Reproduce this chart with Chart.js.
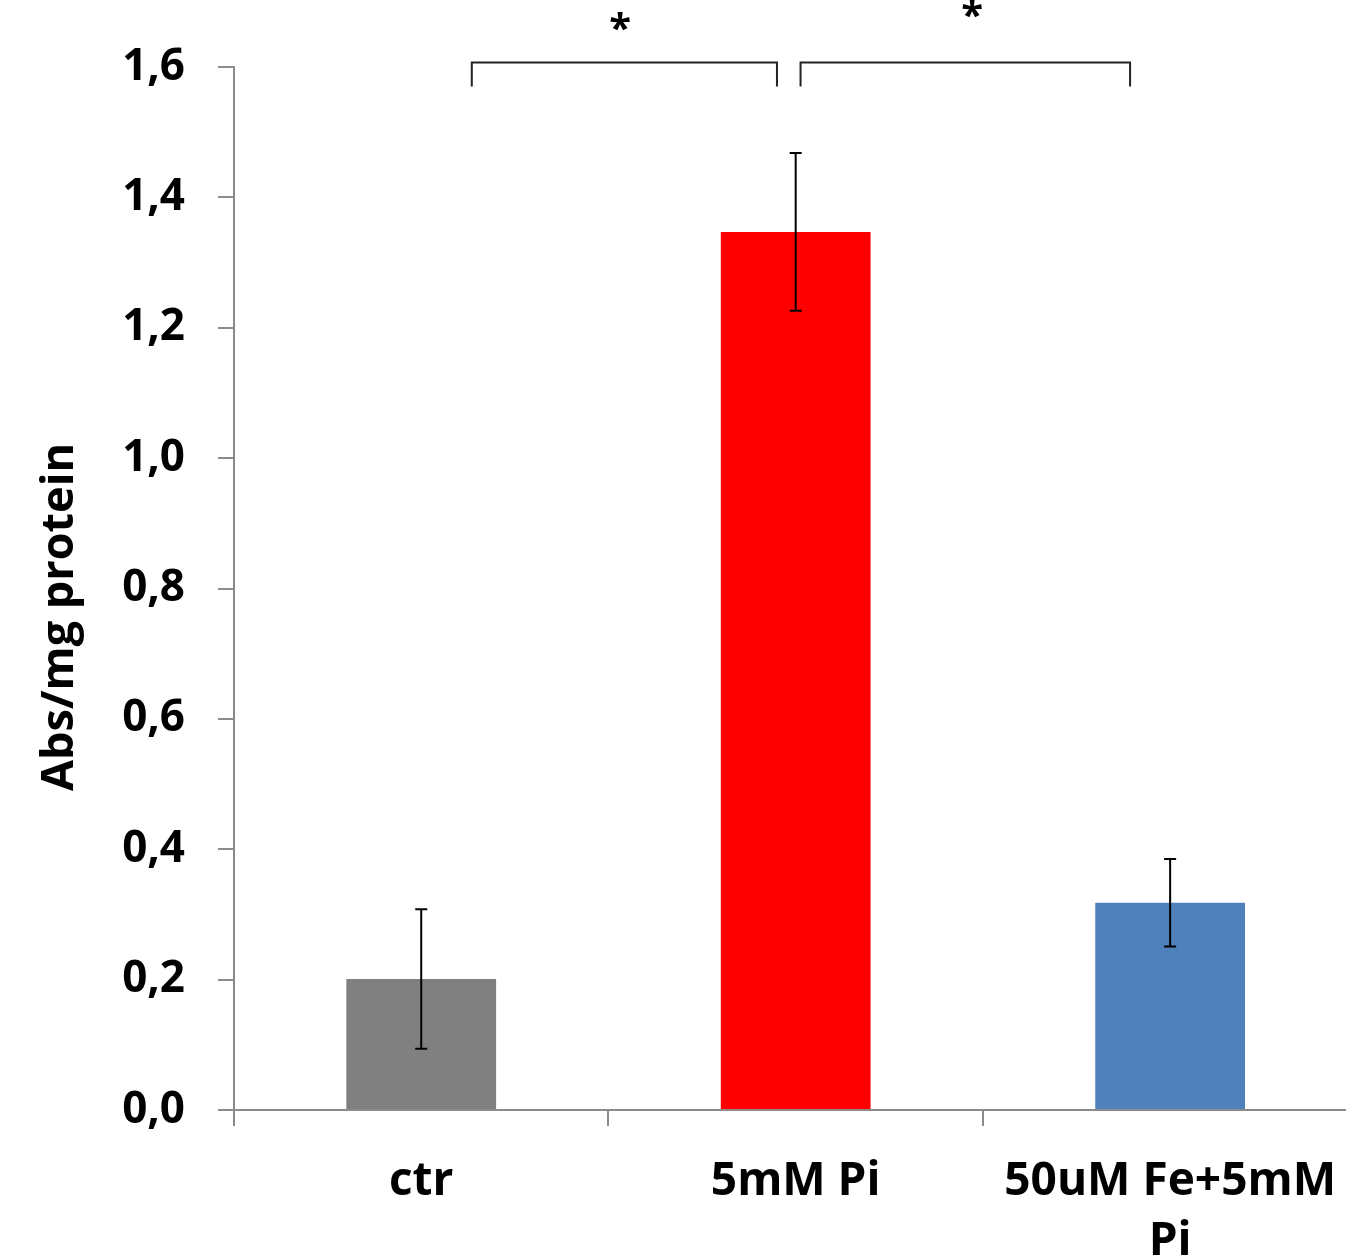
<!DOCTYPE html>
<html>
<head>
<meta charset="utf-8">
<script src="https://cdn.jsdelivr.net/npm/chart.js@4"></script>
<style>
  html, body { margin: 0; padding: 0; background: #fff; overflow: hidden; }
  #wrap { width: 1362px; height: 1255px; }
</style>
</head>
<body>
<div id="wrap"><canvas id="chart-js" width="1362" height="1255"></canvas></div>
<script>
    // values
    const categories = ['ctr', '5mM Pi', ['50uM Fe+5mM', 'Pi']];
    const means = [0.201, 1.347, 0.318];
    const errors = [0.107, 0.121, 0.067];
    const barColors = ['#808080', '#FF0000', '#4F81BD'];
    const yTitle = 'Abs/mg protein';

    // significance brackets: [from index, to index, bracket level, leg bottom]
    const brackets = [
        [0.135, 0.95, 1.607, 1.570],
        [1.013, 1.893, 1.607, 1.570]
    ];
    const stars = [
        [0.531, 1.668],
        [1.471, 1.688]
    ];

    const axisColor = '#8c8c8c';
    const fontFamily = '"Open Sans", "DejaVu Sans", sans-serif';

    const extras = {
        id: 'extras',
        afterDatasetsDraw(chart) {
            const ctx = chart.ctx;
            const x = chart.scales.x, y = chart.scales.y;
            ctx.save();
            ctx.strokeStyle = '#000';
            ctx.lineWidth = 2;
            means.forEach((m, i) => {
                const px = x.getPixelForValue(i);
                const top = y.getPixelForValue(m + errors[i]);
                const bot = y.getPixelForValue(m - errors[i]);
                ctx.beginPath();
                ctx.moveTo(px, top); ctx.lineTo(px, bot);
                ctx.moveTo(px - 6, top); ctx.lineTo(px + 6, top);
                ctx.moveTo(px - 6, bot); ctx.lineTo(px + 6, bot);
                ctx.stroke();
            });

            ctx.strokeStyle = '#222';
            brackets.forEach(b => {
                const x1 = x.getPixelForValue(b[0]);
                const x2 = x.getPixelForValue(b[1]);
                const yl = y.getPixelForValue(b[2]);
                const yb = y.getPixelForValue(b[3]);
                ctx.beginPath();
                ctx.moveTo(x1, yb); ctx.lineTo(x1, yl); ctx.lineTo(x2, yl); ctx.lineTo(x2, yb);
                ctx.stroke();
            });

            ctx.fillStyle = '#000';
            ctx.font = 'bold 40px ' + fontFamily;
            ctx.textAlign = 'center';
            ctx.textBaseline = 'middle';
            stars.forEach(s => {
                ctx.fillText('*', x.getPixelForValue(s[0]), y.getPixelForValue(s[1]) + 8);
            });

            // y axis title, slightly below the middle like the original
            ctx.translate(60, 617);
            ctx.rotate(-Math.PI / 2);
            ctx.font = 'bold 45px ' + fontFamily;
            ctx.fillText(yTitle, 0, 0);
            ctx.restore();
        }
    };

    const ctx = document.getElementById('chart-js').getContext('2d');

    const myChart = new Chart(ctx, {
        type: 'bar',
        data: {
            labels: categories,
            datasets: [{
                data: means,
                backgroundColor: barColors,
                borderWidth: 0,
                categoryPercentage: 1,
                barPercentage: 0.4
            }]
        },
        options: {
            responsive: false,
            animation: false,
            devicePixelRatio: 1,
            layout: { padding: { top: 67, right: 0, left: 0, bottom: 0 } },
            plugins: {
                legend: { display: false },
                tooltip: { enabled: false }
            },
            scales: {
                x: {
                    grid: {
                        drawOnChartArea: false,
                        color: axisColor,
                        lineWidth: 2,
                        tickLength: 16,
                        offset: true
                    },
                    border: { color: axisColor, width: 2 },
                    ticks: {
                        color: '#000',
                        padding: 26,
                        maxRotation: 0,
                        autoSkip: false,
                        font: { family: fontFamily, size: 46, weight: 'bold', lineHeight: 1.3 }
                    },
                    afterFit(scale) { scale.height = 145; }
                },
                y: {
                    min: 0,
                    max: 1.6,
                    ticks: {
                        stepSize: 0.2,
                        color: '#000',
                        padding: 33,
                        font: { family: fontFamily, size: 44, weight: 'bold' },
                        callback: v => v.toFixed(1).replace('.', ',')
                    },
                    grid: {
                        drawOnChartArea: false,
                        color: axisColor,
                        lineWidth: 2,
                        tickLength: 16
                    },
                    border: { color: axisColor, width: 2 },
                    afterFit(scale) { scale.width = 234; }
                }
            }
        },
        plugins: [extras]
    });
</script>
</body>
</html>
